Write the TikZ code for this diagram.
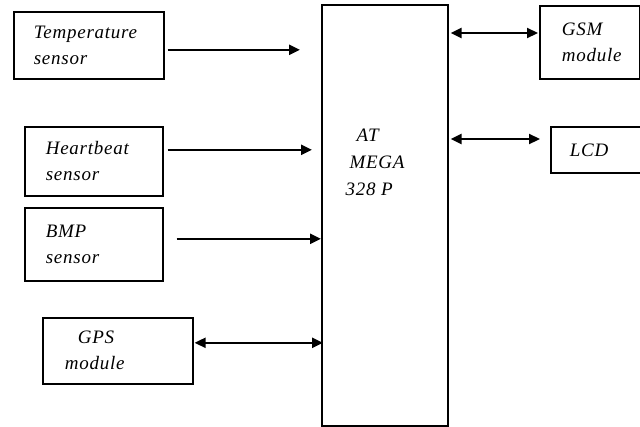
\documentclass[tikz,border=0pt]{standalone}
\usepackage{fontspec}
\setmainfont{Liberation Serif}[LetterSpace=4]
\usepackage{tikz}
\usetikzlibrary{arrows.meta, calc, positioning}

\begin{document}
\begin{tikzpicture}[x=1pt,y=-1pt,>={Triangle[length=11pt,width=10pt]},
  blk/.style={draw, line width=1.6pt, anchor=north west, align=left, inner ysep=0pt, font=\fontsize{19}{26}\selectfont\itshape},
  wire/.style={line width=2.2pt}]
  \useasboundingbox (0,0) rectangle (640,426);
  % sensor and module blocks
  \node[blk, inner xsep=20pt, text width=110pt, minimum height=67pt] (temp) at (13,11) {Temperature\\sensor};
  \node[blk, inner xsep=21pt, text width=96pt, minimum height=69pt] (heart) at (24,126) {Heartbeat\\sensor};
  \node[blk, inner xsep=21pt, text width=96pt, minimum height=73pt] (bmp) at (24,207) {BMP\\sensor};
  \node[blk, inner xsep=22pt, text width=106pt, minimum height=66pt] (gps) at (42,317) {\hspace*{13pt}GPS\\module};
  \node[blk, inner xsep=0pt, minimum width=126pt, minimum height=421pt] (mcu) at (321,4) {};
  \node[anchor=base west, align=left, font=\fontsize{19}{27}\selectfont\itshape] (mcutext) at (342,195) {\hspace*{11pt}AT\\\hspace*{4pt}MEGA\\328 P};
  \node[blk, inner xsep=22pt, text width=56pt, minimum height=73pt] (gsm) at (539,5) {GSM\\module};
  \node[blk, inner xsep=19pt, text width=80pt, minimum height=46pt] (lcd) at (550,126) {LCD};
  % connections
  \draw[wire, ->, shorten <=3pt, shorten >=21pt] ([yshift=-4.5pt]temp.east) -- ([yshift=-4.5pt]temp.east -| mcu.west);
  \draw[wire, ->, shorten <=4pt, shorten >=9pt] ([yshift=11.5pt]heart.east) -- ([yshift=11.5pt]heart.east -| mcu.west);
  \draw[wire, ->, shorten <=13pt] ([yshift=5.5pt]bmp.east) -- ([yshift=5.5pt]bmp.east -| mcu.west);
  \draw[wire, <->, shorten <=1pt, shorten >=-2pt] ([yshift=8pt]gps.east) -- ([yshift=8pt]gps.east -| mcu.west);
  \draw[wire, <->, shorten <=1pt, shorten >=2pt] (gsm.west |- 0,33) coordinate (gsmin) -- (gsmin -| mcu.east);
  \draw[wire, <->, shorten <=2pt, shorten >=10pt] (mcu.east |- 0,139) coordinate (lcdout) -- (lcdout -| lcd.west);
\end{tikzpicture}
\end{document}
